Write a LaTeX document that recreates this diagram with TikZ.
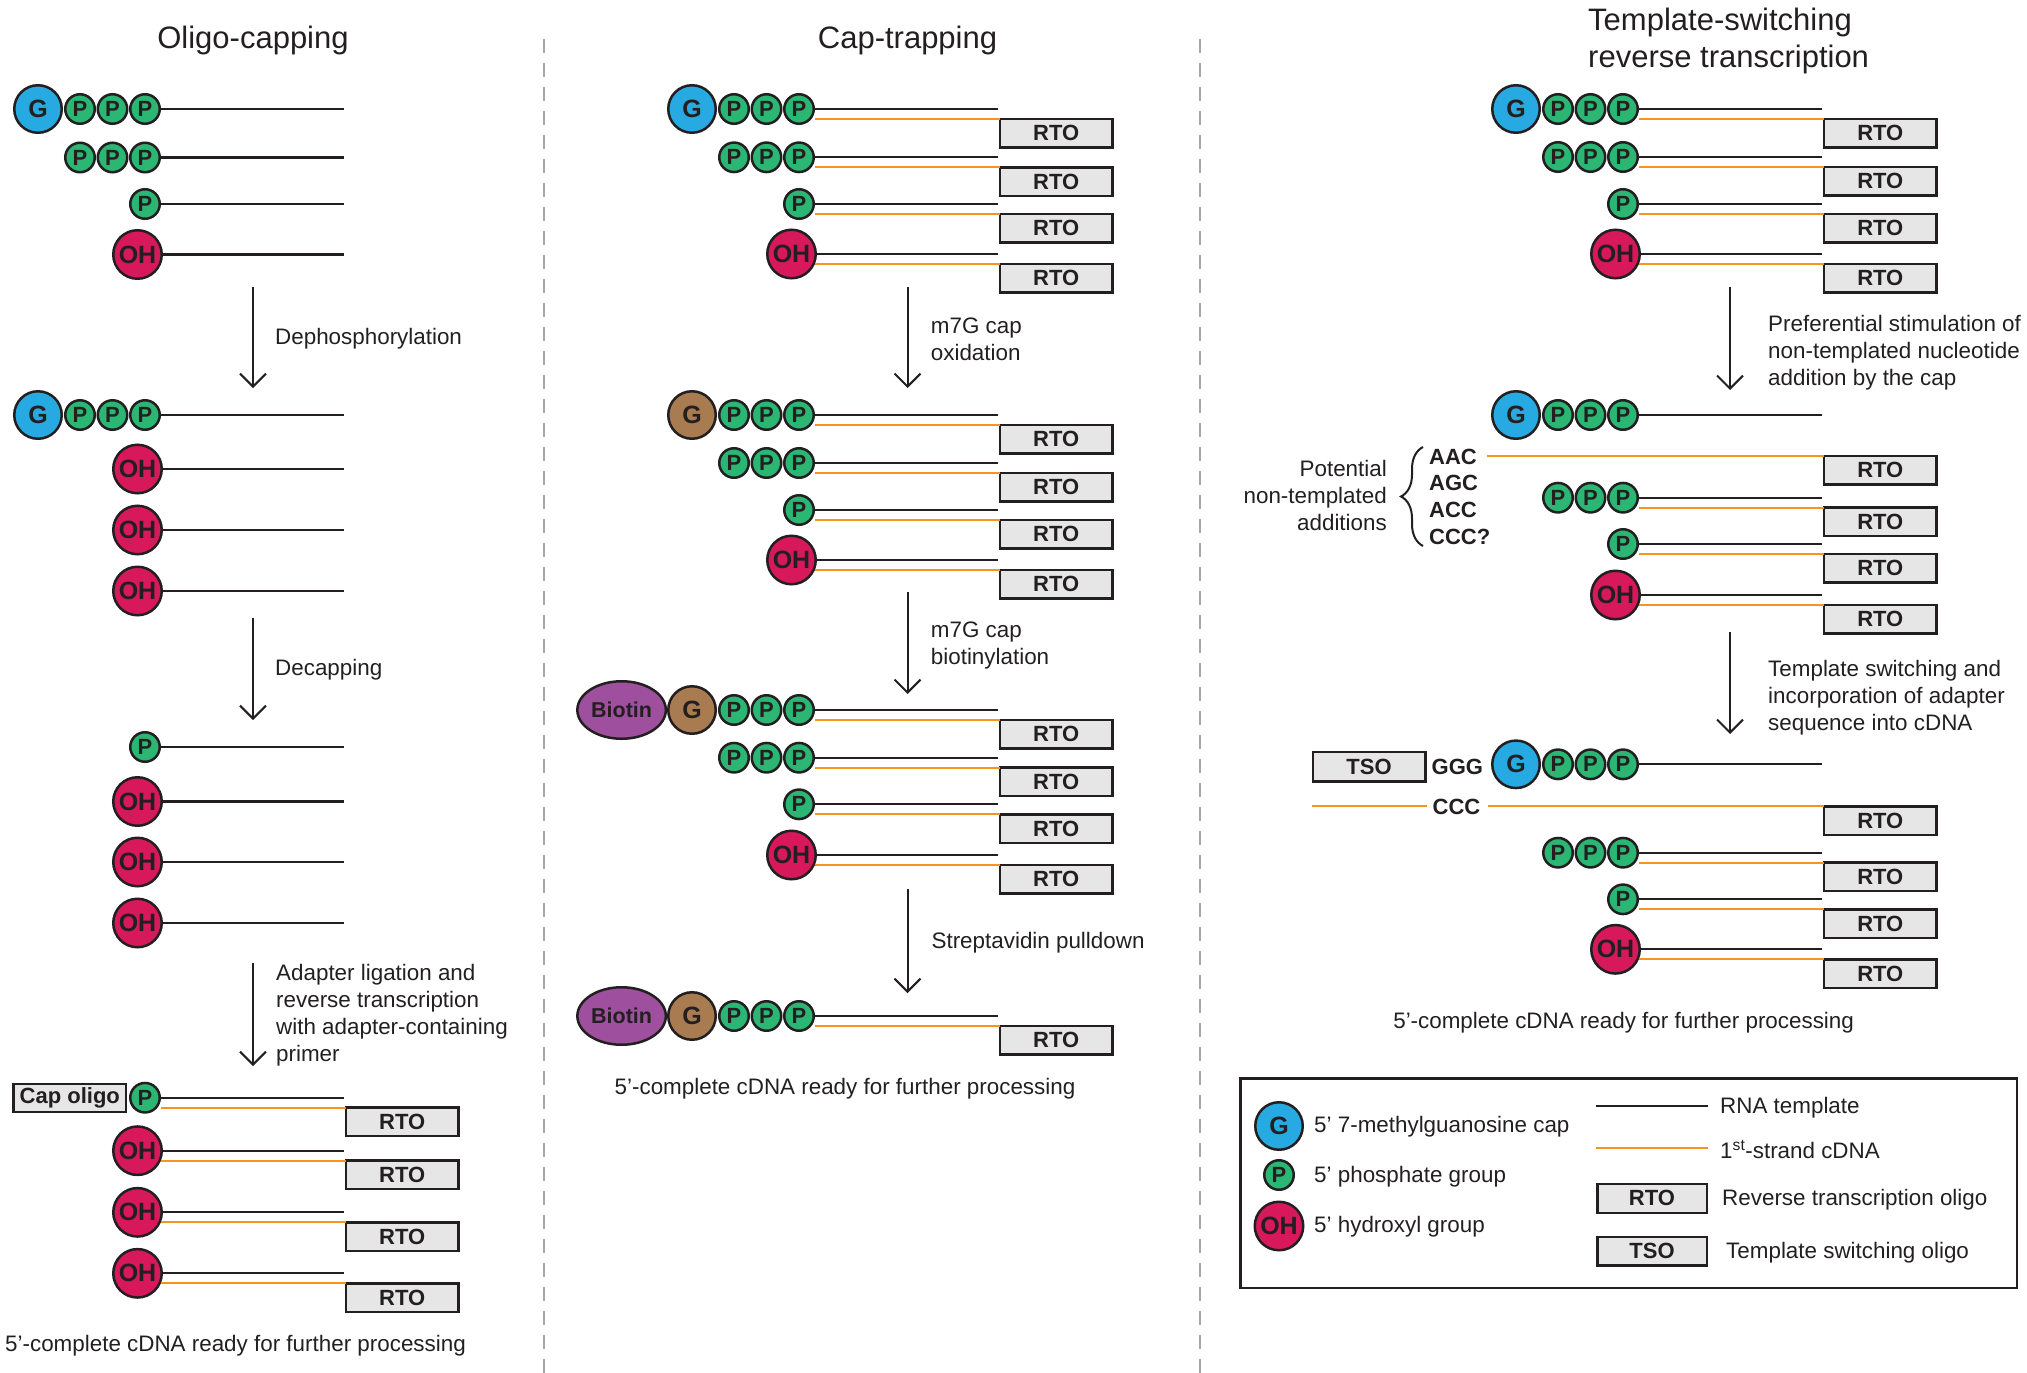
\documentclass[tikz,border=0pt]{standalone}
\usepackage{fontspec}
\setmainfont{Liberation Sans}
\usetikzlibrary{arrows.meta,decorations.pathreplacing,shapes.geometric}

\definecolor{gblue}{RGB}{39,170,225}
\definecolor{pgreen}{RGB}{43,182,115}
\definecolor{ohred}{RGB}{215,25,91}
\definecolor{brownG}{RGB}{168,124,80}
\definecolor{biotinc}{RGB}{158,80,158}
\definecolor{orangeL}{RGB}{247,148,30}
\definecolor{boxgray}{RGB}{230,230,230}
\definecolor{darkc}{RGB}{35,31,32}
\definecolor{divgray}{RGB}{165,165,165}

\tikzset{
  shp/.style={draw=darkc, line width=2.5pt},
  gc/.style={circle, shp, fill=gblue, minimum size=47.5pt, inner sep=0pt, font=\bfseries\fontsize{25}{25}\selectfont},
  gbr/.style={gc, fill=brownG},
  pc/.style={circle, shp, fill=pgreen, minimum size=29.5pt, inner sep=0pt, font=\bfseries\fontsize{22}{22}\selectfont},
  ohc/.style={circle, shp, fill=ohred, minimum size=48.5pt, inner sep=0pt, font=\bfseries\fontsize{25}{25}\selectfont},
  bio/.style={ellipse, shp, fill=biotinc, minimum width=88.5pt, minimum height=57.5pt, inner sep=0pt, font=\bfseries\fontsize{21.5}{21.5}\selectfont},
  rto/.style={rectangle, shp, fill=boxgray, minimum width=112.5pt, minimum height=28.5pt, inner sep=0pt, outer sep=0pt, font=\bfseries\fontsize{22}{22}\selectfont},
  rna/.style={draw=darkc, line width=2.2pt},
  cdna/.style={draw=orangeL, line width=2.2pt},
  arr/.style={draw=darkc, line width=2pt, -{Straight Barb[length=13pt,width=26pt]}},
  lbl/.style={font=\fontsize{22.4}{27}\selectfont, inner sep=0pt, align=left, anchor=base west},
  ttl/.style={font=\fontsize{31}{37}\selectfont, inner sep=0pt},
  seq/.style={font=\bfseries\fontsize{22}{27}\selectfont, inner sep=0pt, anchor=base west},
  divider/.style={draw=divgray, line width=2pt, dash pattern=on 14pt off 10pt},
}

% #1 prefix, #2 x of last P, #3 y
\newcommand\trioP[3]{%
  \node[pc] (#1a) at ({#2-65},#3) {P};
  \node[pc] (#1b) at ({#2-32.5},#3) {P};
  \node[pc] (#1c) at (#2,#3) {P};}
\newcommand\capG[3]{\node[gc] (#1g) at ({#2-107},#3) {G};\trioP{#1}{#2}{#3}}
\newcommand\capBr[3]{\node[gbr] (#1g) at ({#2-107},#3) {G};\trioP{#1}{#2}{#3}}
\newcommand\capBio[3]{\node[bio] (#1bio) at ({#2-177.4},#3) {Biotin};\capBr{#1}{#2}{#3}}
\newcommand\monoP[3]{\node[pc] (#1c) at (#2,#3) {P};}
\newcommand\hydOH[3]{\node[ohc] (#1c) at ({#2-7.5},#3) {OH};}
\newcommand\rnaline[3]{%
  \coordinate (#1end) at ({#2+199},#3);
  \draw[rna] (#1c.east) -- (#1end);}
\newcommand\cdnaline[3]{%
  \coordinate (#1cs) at ({#2+16},{#3+10});
  \node[rto, anchor=north west] (#1rto) at ({#2+201},{#3+10}) {RTO};
  \draw[cdna] (#1cs) -- (#1rto.north west);}
\newcommand\both[3]{\rnaline{#1}{#2}{#3}\cdnaline{#1}{#2}{#3}}

\begin{document}
\begin{tikzpicture}[x=1pt,y=-1pt, every node/.append style={text=darkc}]
\useasboundingbox (0,0) rectangle (2027,1373);

% dividers
\coordinate (dv1t) at (544,39); \coordinate (dv1b) at (544,1373);
\coordinate (dv2t) at (1199.6,39); \coordinate (dv2b) at (1199.6,1373);
\draw[divider] (dv1t) -- (dv1b);
\draw[divider] (dv2t) -- (dv2b);

% titles (multi-line nodes: base = last line's baseline)
\node[ttl, anchor=base] (t1) at (253,48) {Oligo-capping};
\node[ttl, anchor=base] (t2) at (907.5,48) {Cap-trapping};
\node[ttl, anchor=base west, align=left] (t3) at (1588,67) {Template-switching\\reverse transcription};

% ================= Column 1 =================
\capG{aa}{145}{109}   \rnaline{aa}{145}{109}
\trioP{ab}{145}{157.5} \rnaline{ab}{145}{157.5}
\monoP{ac}{145}{204}  \rnaline{ac}{145}{204}
\hydOH{ad}{145}{254.5} \rnaline{ad}{145}{254.5}

\coordinate (ar1s) at (253,287); \coordinate (ar1e) at (253,388);
\draw[arr] (ar1s) -- (ar1e);
\node[lbl] (l11) at (275,344) {Dephosphorylation};

\capG{ba}{145}{415}   \rnaline{ba}{145}{415}
\hydOH{bb}{145}{469}  \rnaline{bb}{145}{469}
\hydOH{bc}{145}{530}  \rnaline{bc}{145}{530}
\hydOH{bd}{145}{591}  \rnaline{bd}{145}{591}

\coordinate (ar2s) at (253,618); \coordinate (ar2e) at (253,720);
\draw[arr] (ar2s) -- (ar2e);
\node[lbl] (l12) at (275,675) {Decapping};

\monoP{ca}{145}{747}  \rnaline{ca}{145}{747}
\hydOH{cb}{145}{801.5} \rnaline{cb}{145}{801.5}
\hydOH{cc}{145}{862}  \rnaline{cc}{145}{862}
\hydOH{cd}{145}{923}  \rnaline{cd}{145}{923}

\coordinate (ar3s) at (253,963); \coordinate (ar3e) at (253,1066);
\draw[arr] (ar3s) -- (ar3e);
\node[lbl] (l13) at (276,1061.5) {Adapter ligation and\\reverse transcription\\with adapter-containing\\primer};

\node[rto, minimum height=28pt, font=\bfseries\fontsize{22}{22}\selectfont] (capol) at (69.8,1098) {Cap oligo};
\monoP{da}{145}{1097.7} \both{da}{145}{1097.7}
\hydOH{db}{145}{1150.7} \both{db}{145}{1150.7}
\hydOH{dc}{145}{1212.3} \both{dc}{145}{1212.3}
\hydOH{dd}{145}{1273.3} \both{dd}{145}{1273.3}
\node[lbl] (f1) at (5,1351) {5’-complete cDNA ready for further processing};

% ================= Column 2 =================
\capG{ea}{799}{109}   \both{ea}{799}{109}
\trioP{eb}{799}{157.3} \both{eb}{799}{157.3}
\monoP{ec}{799}{204}  \both{ec}{799}{204}
\hydOH{ed}{799}{254}  \both{ed}{799}{254}

\coordinate (br1s) at (907.5,287); \coordinate (br1e) at (907.5,388);
\draw[arr] (br1s) -- (br1e);
\node[lbl] (l21) at (930.7,360) {m7G cap\\oxidation};

\capBr{fa}{799}{415}  \both{fa}{799}{415}
\trioP{fb}{799}{463}  \both{fb}{799}{463}
\monoP{fc}{799}{510}  \both{fc}{799}{510}
\hydOH{fd}{799}{560}  \both{fd}{799}{560}

\coordinate (br2s) at (907.5,592); \coordinate (br2e) at (907.5,694);
\draw[arr] (br2s) -- (br2e);
\node[lbl] (l22) at (930.7,664.5) {m7G cap\\biotinylation};

\capBio{ga}{799}{710} \both{ga}{799}{710}
\trioP{gb}{799}{757.7} \both{gb}{799}{757.7}
\monoP{gc}{799}{804.3} \both{gc}{799}{804.3}
\hydOH{gd}{799}{855}  \both{gd}{799}{855}

\coordinate (br3s) at (907.5,888.7); \coordinate (br3e) at (907.5,993);
\draw[arr] (br3s) -- (br3e);
\node[lbl] (l23) at (931.4,948) {Streptavidin pulldown};

\capBio{ha}{799}{1016} \both{ha}{799}{1016}
\node[lbl, anchor=base] (f2) at (845,1094) {5’-complete cDNA ready for further processing};

% ================= Column 3 =================
\capG{ia}{1623}{109}  \both{ia}{1623}{109}
\trioP{ib}{1623}{157} \both{ib}{1623}{157}
\monoP{ic}{1623}{204} \both{ic}{1623}{204}
\hydOH{id}{1623}{254} \both{id}{1623}{254}

\coordinate (cr1s) at (1730,287); \coordinate (cr1e) at (1730,390);
\draw[arr] (cr1s) -- (cr1e);
\node[lbl] (l31) at (1768,385) {Preferential stimulation of\\non-templated nucleotide\\addition by the cap};

\capG{ja}{1623}{415}  \rnaline{ja}{1623}{415}
\node[seq] (aac) at (1429,464) {AAC};
\node[seq] (agc) at (1429,490.7) {AGC};
\node[seq] (acc) at (1429,517.3) {ACC};
\node[seq] (cccq) at (1429,544.7) {CCC?};
\node[rto, anchor=north west] (jxrto) at (1824,456) {RTO};
\draw[cdna, shorten <=9.6pt] (aac.east |- jxrto.north west) -- (jxrto.north west);
\coordinate (brb) at (1423,546); \coordinate (brt) at (1423,447);
\draw[draw=darkc, line width=2pt, decorate, decoration={brace, amplitude=22pt}] (brb) -- (brt);
\node[lbl, align=right, anchor=base east] (pot) at (1387,530) {Potential\\non-templated\\additions};
\trioP{jb}{1623}{497.7} \both{jb}{1623}{497.7}
\monoP{jc}{1623}{544}  \both{jc}{1623}{544}
\hydOH{jd}{1623}{595}  \both{jd}{1623}{595}

\coordinate (cr2s) at (1730,631.7); \coordinate (cr2e) at (1730,734);
\draw[arr] (cr2s) -- (cr2e);
\node[lbl] (l32) at (1768,730) {Template switching and\\incorporation of adapter\\sequence into cDNA};

\node[rto, minimum height=29.2pt] (tso) at (1369,766.8) {TSO};
\node[seq] (ggg) at (1431.5,774.7) {GGG};
\capG{ka}{1623}{764.3} \rnaline{ka}{1623}{764.3}
\node[seq] (ccc) at (1432.5,814.3) {CCC};
\coordinate (kxl) at (1311.6,806.3);
\node[rto, anchor=north west] (kxrto) at (1824,806.3) {RTO};
\draw[cdna, shorten >=6pt] (kxl) -- (kxl -| ccc.west);
\draw[cdna, shorten <=7pt] (ccc.east |- kxrto.north west) -- (kxrto.north west);
\trioP{kb}{1623}{852.7} \both{kb}{1623}{852.7}
\monoP{kc}{1623}{899.3} \both{kc}{1623}{899.3}
\hydOH{kd}{1623}{949.3} \both{kd}{1623}{949.3}
\node[lbl, anchor=base] (f3) at (1623.6,1028) {5’-complete cDNA ready for further processing};

% ================= Legend =================
\node[draw=darkc, line width=2.5pt, minimum width=776.5pt, minimum height=209.5pt, inner sep=0pt, outer sep=0pt] (legend) at (1628.5,1183) {};
\node[gc] (lgG) at (1279,1126) {G};
\node[pc] (lgP) at (1279,1175) {P};
\node[ohc] (lgOH) at (1279,1226) {OH};
\node[lbl] (lgGt) at (1314,1132) {5’ 7-methylguanosine cap};
\node[lbl] (lgPt) at (1314,1182) {5’ phosphate group};
\node[lbl] (lgOHt) at (1314,1232) {5’ hydroxyl group};
\coordinate (lgrs) at (1596,1105.7); \coordinate (lgre) at (1708,1105.7);
\draw[rna] (lgrs) -- (lgre);
\coordinate (lgcs) at (1596,1148.3); \coordinate (lgce) at (1708,1148.3);
\draw[cdna] (lgcs) -- (lgce);
\node[lbl] (lgrt) at (1720,1113) {RNA template};
\node[lbl] (lgct) at (1720,1158) {1\textsuperscript{st}-strand cDNA};
\node[rto, minimum width=109.5pt, minimum height=28.8pt] (lgrto) at (1652,1198.4) {RTO};
\node[rto, minimum width=109.5pt, minimum height=28.5pt] (lgtso) at (1652,1251.2) {TSO};
\node[lbl] (lgrtot) at (1722,1205) {Reverse transcription oligo};
\node[lbl] (lgtsot) at (1726,1258) {Template switching oligo};
\end{tikzpicture}
\end{document}
